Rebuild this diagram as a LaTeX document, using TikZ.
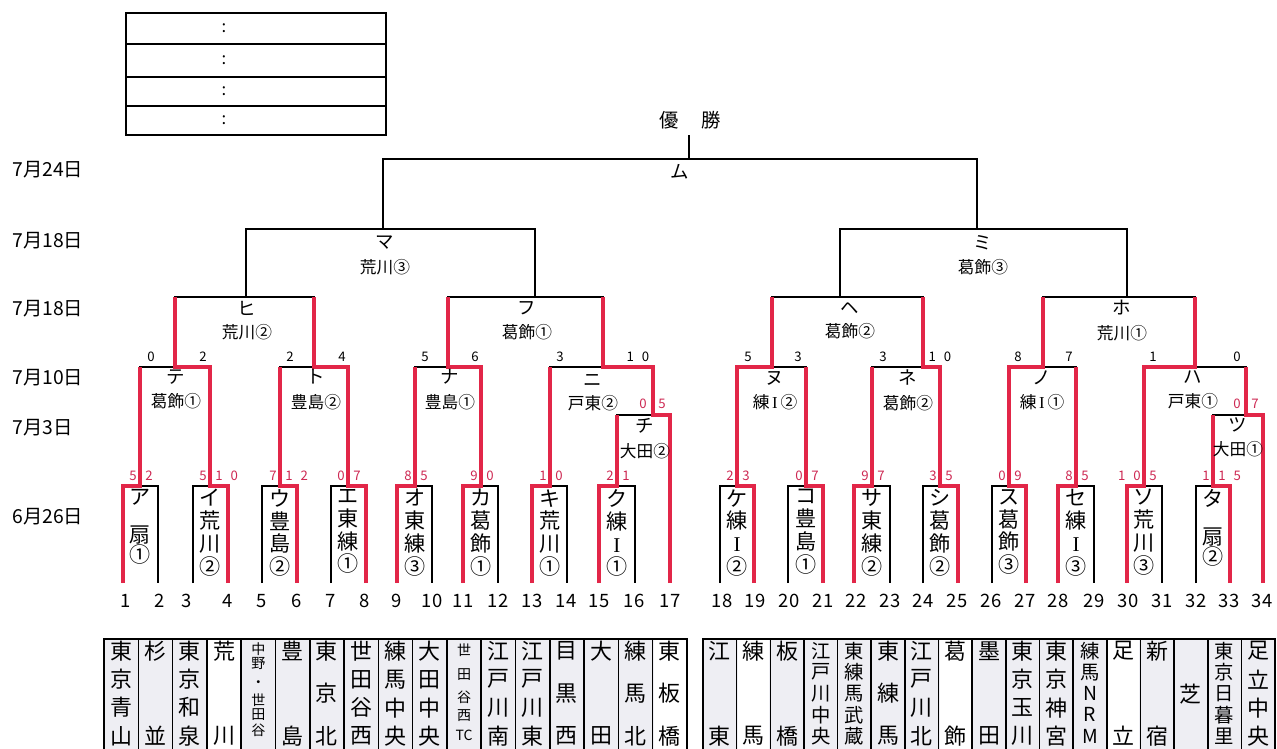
\documentclass[tikz,border=0pt]{standalone}
\usepackage{fontspec}
\setmainfont{Noto Sans CJK JP}
\newfontfamily\romanI{Liberation Serif}
\usetikzlibrary{positioning}
\definecolor{winred}{RGB}{226,38,72}
\definecolor{scorered}{RGB}{205,40,82}
\definecolor{cellgray}{RGB}{238,238,243}
\newcommand{\twodig}[2]{#1\hspace{4.5pt}#2}
\newcommand{\rI}{{\romanI I}}

\begin{document}
\begin{tikzpicture}[x=0.02cm, y=-0.02cm,
  bline/.style={line width=0.9pt},
  win/.style={draw=winred, line width=2.3pt},
  day/.style={anchor=west, inner sep=0pt, font=\fontsize{11}{11}\selectfont},
  slotnum/.style={inner sep=0pt, font=\fontsize{10.5}{10.5}\selectfont},
  rscore/.style={inner sep=0pt, text=scorered, font=\fontsize{7.5}{7.5}\selectfont},
  bscore/.style={inner sep=0pt, font=\fontsize{7.5}{7.5}\selectfont},
  kana/.style={inner sep=0pt, font=\fontsize{10.5}{10.5}\selectfont},
  site/.style={inner sep=0pt, font=\fontsize{9.5}{9.5}\selectfont},
  boxtxt/.style={inner sep=0pt, anchor=north, align=center, font=\fontsize{12}{13}\selectfont},
  team/.style={inner sep=0pt, font=\fontsize{12.5}{12.5}\selectfont},
  tinyteam/.style={inner sep=0pt, font=\fontsize{8}{8}\selectfont},
]
\useasboundingbox (0,0) rectangle (1277,749);
\clip (0,0) rectangle (1277,749);

% Legend box (top left)
\draw[bline] (126,13) rectangle (386,135);
\foreach \y in {44,77,106} \draw[bline] (126,\y) -- (386,\y);
\foreach \y [count=\i] in {28,60,91,120} \node[site] (colon\i) at (224,\y) {:};

% Dates
\node[day] (d724) at (12,170) {7月24日};
\node[day] (d718b) at (12,241) {7月18日};
\node[day] (d718a) at (12,309) {7月18日};
\node[day] (d710) at (12,378) {7月10日};
\node[day] (d703) at (12,428) {7月3日};
\node[day] (d626) at (12,517) {6月26日};

% First round boxes (6/26)
\foreach \l/\r in {123/158, 193/228, 262/297, 331/366, 397/432, 463/498,
                   532/567, 599/635, 720/754, 788/823, 854/890, 923/958,
                   992/1026, 1058/1094, 1127/1162, 1196/1230}
  \draw[bline] (\l,583) -- (\l,486) -- (\r,486) -- (\r,583);

% 7/3 boxes
\draw[bline] (617,486) -- (617,415) -- (670,415) -- (670,583);
\draw[bline] (1213,486) -- (1213,415) -- (1263,415) -- (1263,583);

% 7/10
\foreach \l/\ly/\r/\ry in {140/486/210/486, 280/486/348/486, 415/486/481/486,
                           550/486/653/415, 737/486/806/486, 872/486/940/486,
                           1009/486/1076/486, 1144/486/1246/415}
  \draw[bline] (\l,\ly) -- (\l,367) -- (\r,367) -- (\r,\ry);

% 7/18
\foreach \l/\r in {175/314, 448/603, 772/923, 1043/1195}
  \draw[bline] (\l,367) -- (\l,297) -- (\r,297) -- (\r,367);
\foreach \l/\r in {246/535, 840/1127}
  \draw[bline] (\l,297) -- (\l,229) -- (\r,229) -- (\r,297);

% 7/24 final
\draw[bline] (383,229) -- (383,159) -- (977,159) -- (977,229);
\draw[bline] (689,159) -- (689,135);

% Winners' paths
\draw[win] (123,583) |- (140,486) -- (140,367);
\draw[win] (228,583) |- (210,486) |- (175,367) -- (175,297);
\draw[win] (297,583) |- (280,486) -- (280,367);
\draw[win] (366,583) |- (348,486) |- (314,367) -- (314,297);
\draw[win] (397,583) |- (415,486) -- (415,367);
\draw[win] (463,583) |- (481,486) |- (448,367) -- (448,297);
\draw[win] (532,583) |- (550,486) -- (550,367);
\draw[win] (599,583) |- (617,486) -- (617,415);
\draw[win] (670,583) |- (653,415) |- (603,367) -- (603,297);
\draw[win] (754,583) |- (737,486) |- (772,367) -- (772,297);
\draw[win] (823,583) |- (806,486) -- (806,367);
\draw[win] (854,583) |- (872,486) -- (872,367);
\draw[win] (958,583) |- (940,486) |- (923,367) -- (923,297);
\draw[win] (1026,583) |- (1009,486) |- (1043,367) -- (1043,297);
\draw[win] (1058,583) |- (1076,486) -- (1076,367);
\draw[win] (1127,583) |- (1144,486) |- (1195,367) -- (1195,297);
\draw[win] (1230,583) |- (1213,486) -- (1213,415);
\draw[win] (1263,583) |- (1246,415) -- (1246,367);

% Box labels
\foreach \c/\t [count=\i] in {140/{ア\\[8.5pt]扇\\[-1.7pt]①}, 210/{イ\\荒\\川\\②},
    280/{ウ\\豊\\島\\②}, 348/{エ\\東\\練\\①}, 415/{オ\\東\\練\\③},
    481/{カ\\葛\\飾\\①}, 550/{キ\\荒\\川\\①}, 617/{ク\\練\\\rI\\①},
    737/{ケ\\練\\\rI\\②}, 806/{コ\\豊\\島\\①}, 872/{サ\\東\\練\\②},
    940/{シ\\葛\\飾\\②}, 1009/{ス\\葛\\飾\\③}, 1076/{セ\\練\\\rI\\③},
    1144/{ソ\\荒\\川\\③}, 1213/{タ\\[8.5pt]扇\\[-1.7pt]②}}
  \node[boxtxt] (box\i) at (\c,489) {\t};

% Round 1 scores
\foreach \c/\a/\b [count=\i] in {140/5/2, 210/5/{\twodig10}, 280/7/{\twodig12},
    348/0/7, 415/8/5, 481/9/0, 550/1/0, 617/2/1, 737/2/3, 806/0/7, 872/9/7,
    940/3/5, 1009/0/9, 1076/8/5, 1144/{\twodig10}/5, 1213/1/{\twodig15}} {
  \node[rscore, anchor=east] (sa\i) at (\c-3,476) {\a};
  \node[rscore, anchor=west] (sb\i) at (\c+5,476) {\b};
}
\node[rscore] (sc1) at (643,404) {0};
\node[rscore] (sc2) at (662,404) {5};
\node[rscore] (sc3) at (1237,404) {0};
\node[rscore] (sc4) at (1255,404) {7};

% 7/10 scores
\foreach \x/\s [count=\i] in {151/0, 203/2, 290/2, 342/4, 425/5, 475/6,
    560/3, 638/{\twodig10}, 748/5, 798/3, 883/3, 940/{\twodig10},
    1018/8, 1069/7, 1153/1, 1237/0}
  \node[bscore] (bs\i) at (\x,357) {\s};

% Match names and sites
\foreach \x/\y/\k/\s [count=\i] in {176/377/テ/葛飾①, 316/377/ト/豊島②,
    450/377/ナ/豊島①, 593/380/ニ/戸東②, 645/426/チ/大田②,
    775/378/ヌ/練\,\rI\,②, 908/378/ネ/葛飾②, 1042/378/ノ/練\,\rI\,①,
    1193/377/ハ/戸東①, 1238/425/ツ/大田①,
    247/308/ヒ/荒川②, 527/308/フ/葛飾①, 850/308/ヘ/葛飾②,
    1122/308/ホ/荒川①, 385/243/マ/荒川③, 983/243/ミ/葛飾③} {
  \node[kana] (m\i) at (\x,\y) {\k};
  \node[site, below=5pt of m\i] (v\i) {\s};
}
\node[kana] (mu) at (680,172) {ム};
\node[kana, font=\fontsize{11}{11}\selectfont] (champ) at (690,120) {優\hspace{1.2em}勝};

% Slot numbers
\foreach \x [count=\n] in {126,160,187,228,262,297,331,365,397,432,463,498,532,
    566,599,634,670,722,755,789,823,856,890,923,957,991,1025,1058,1094,1128,
    1162,1196,1229,1262}
  \node[slotnum] (n\n) at (\x,601) {\n};

% Team table
\foreach \k in {1,...,17}
  \draw[bline, fill=cellgray] ({104+34.29*(\k-1)},639) rectangle ++(34.29,140);
\foreach \k in {18,...,34}
  \draw[bline, fill=cellgray] ({703+33.65*(\k-18)},639) rectangle ++(33.65,140);
\foreach \k in {4,17,19,25,30}
  \fill[white] ({\k<18 ? 104+34.29*(\k-1)+1 : 703+33.65*(\k-18)+1},640)
    rectangle ++({\k<18 ? 32.3 : 31.6},140);

\foreach \k/\n/\t in {1/4/{東,京,青,山}, 2/2/{杉,並}, 3/4/{東,京,和,泉},
    4/2/{荒,川}, 6/2/{豊,島}, 7/3/{東,京,北}, 8/4/{世,田,谷,西},
    9/4/{練,馬,中,央}, 10/4/{大,田,中,央}, 12/4/{江,戸,川,南},
    13/4/{江,戸,川,東}, 14/3/{目,黒,西}, 15/2/{大,田}, 16/3/{練,馬,北},
    17/3/{東,板,橋}, 18/2/{江,東}, 19/2/{練,馬}, 20/2/{板,橋},
    21/5/{江,戸,川,中,央}, 22/5/{東,練,馬,武,蔵}, 23/3/{東,練,馬},
    24/4/{江,戸,川,北}, 25/2/{葛,飾}, 26/2/{墨,田}, 27/4/{東,京,玉,川},
    28/4/{東,京,神,宮}, 29/5/{練,馬,N,R,M}, 30/2/{足,立}, 31/2/{新,宿},
    33/5/{東,京,日,暮,里}, 34/4/{足,立,中,央}} {
  \pgfmathsetmacro{\tx}{\k<18 ? 104+34.29*(\k-0.5) : 703+33.65*(\k-17.5)}
  \foreach \c [count=\j] in \t
    \node[team, font=\fontsize{\ifnum\n>4 11\else 12.5\fi}{14}\selectfont]
      (t\k-\j) at (\tx,{651+(\j-1)*85/(\n-1)}) {\c};
}
\node[team] (t32-1) at ({703+33.65*14.5},694) {芝};
\foreach \c/\y [count=\j] in {中/649, 野/663, ・/684, 世/700, 田/715, 谷/730}
  \node[tinyteam] (t5-\j) at ({104+34.29*4.5},\y) {\c};
\foreach \c/\y [count=\j] in {世/650, 田/675, 谷/697, 西/716, TC/735}
  \node[tinyteam] (t11-\j) at ({104+34.29*10.5},\y) {\c};
\end{tikzpicture}
\end{document}
